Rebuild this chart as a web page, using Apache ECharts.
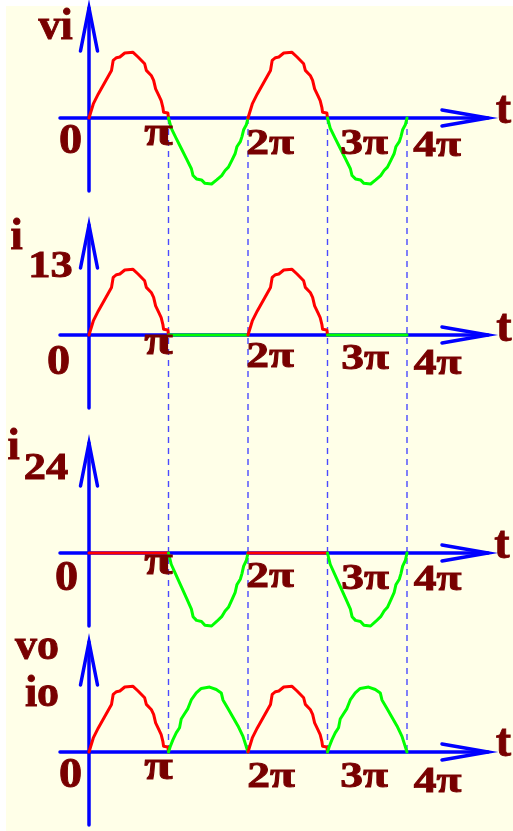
<!DOCTYPE html>
<html>
<head>
<meta charset="utf-8">
<script src="https://cdn.jsdelivr.net/npm/echarts@6/dist/echarts.min.js"></script>
<style>
  html, body { margin: 0; padding: 0; background: #ffffff; }
  #chart { width: 513px; height: 831px; }
</style>
</head>
<body>
<div id="chart"></div>
<script>
// Half-period waveform shapes: [phase in units of π, normalised amplitude]
const redHump = [
  [0, 0], [0.054, 0.213], [0.117, 0.365], [0.2, 0.543], [0.283, 0.721],
  [0.304, 0.873], [0.346, 0.914], [0.388, 0.924], [0.45, 0.985], [0.554, 0.995],
  [0.617, 0.924], [0.7, 0.822], [0.721, 0.721], [0.783, 0.645], [0.813, 0.569],
  [0.838, 0.442], [0.879, 0.34], [0.908, 0.264], [0.929, 0.162], [0.938, 0.086],
  [0.992, 0.076], [1, 0]
];
const greenDip = [
  [0, 0], [0.034, -0.154], [0.097, -0.308], [0.161, -0.462], [0.225, -0.615],
  [0.288, -0.769], [0.309, -0.872], [0.352, -0.923], [0.415, -0.938], [0.458, -0.99],
  [0.542, -1.0], [0.606, -0.938], [0.669, -0.872], [0.712, -0.795], [0.754, -0.744],
  [0.797, -0.641], [0.839, -0.538], [0.86, -0.436], [0.903, -0.359], [0.924, -0.282],
  [0.945, -0.179], [0.979, -0.103], [0.996, -0.103], [1, 0]
];
const greenHump = [
  [0, 0], [0.021, 0.079], [0.055, 0.184], [0.097, 0.289], [0.139, 0.368],
  [0.16, 0.5], [0.202, 0.579], [0.244, 0.658], [0.286, 0.789], [0.349, 0.895],
  [0.412, 0.963], [0.517, 0.984], [0.601, 0.947], [0.664, 0.895], [0.685, 0.789],
  [0.748, 0.658], [0.811, 0.526], [0.874, 0.395], [0.937, 0.237], [1, 0]
];
const flatOff = [[0, 0], [1, 0]];

// Time axis ticks (multiples of π)
const tickValues = [0, 1, 2, 3, 4];
const tickLabels = ['0', 'π', '2π', '3π', '4π'];
const timeName = 't';

// Each panel: which shape is drawn in each half period, and its colour
const panelSegments = [
  [['red', redHump], ['green', greenDip], ['red', redHump], ['green', greenDip]],
  [['red', redHump], ['green', flatOff], ['red', redHump], ['green', flatOff]],
  [['red', flatOff], ['green', greenDip], ['red', flatOff], ['green', greenDip]],
  [['red', redHump], ['green', greenHump], ['red', redHump], ['green', greenHump]]
];

// ---- layout ----
const TEXT = '#780000';
const BLUE = '#0000ff';
const COLORS = { red: '#ff0000', green: '#00ff00' };
const FONT = '"Liberation Serif", "Times New Roman", serif';
const axisY = [118, 335, 553, 752];          // pixel row of each time axis
const pxPerUnit = [66, 66, 73, 66];          // vertical scale of each panel
const plotLeft = 89, plotWidth = 318;        // 0 .. 4π
const yMax = 1.5, yMin = -1.1;

const grids = [], xAxes = [], yAxes = [], series = [];
axisY.forEach((y0, i) => {
  const u = pxPerUnit[i];
  grids.push({ left: plotLeft, width: plotWidth, top: y0 - yMax * u, height: (yMax - yMin) * u });
  xAxes.push({ gridIndex: i, type: 'value', min: 0, max: 4, show: false });
  yAxes.push({ gridIndex: i, type: 'value', min: yMin, max: yMax, show: false });
  panelSegments[i].forEach((seg, k) => {
    series.push({
      type: 'line', xAxisIndex: i, yAxisIndex: i,
      data: seg[1].map(p => [p[0] + k, p[1]]),
      showSymbol: false, silent: true, z: 5, clip: false,
      lineStyle: { color: COLORS[seg[0]], width: 3, cap: 'round', join: 'round' },
      animation: false
    });
  });
});

const chart = echarts.init(document.getElementById('chart'), null, { renderer: 'canvas' });
chart.setOption({
  backgroundColor: '#ffffff',
  animation: false,
  grid: grids, xAxis: xAxes, yAxis: yAxes, series: series
});

// tick label placement relative to each tick: [dx, glyph bottom below axis]
const tickLabelPos = [
  [[-18.5, 38], [-10, 30], [22, 39], [36.5, 39], [30, 41]],
  [[-30.5, 42], [-10, 22], [22, 35], [37.5, 37], [30.5, 42]],
  [[-22.5, 40], [-10, 24], [22, 37], [37.5, 39], [30.5, 40]],
  [[-18.5, 38], [-10, 30], [23, 38], [36.5, 38], [30.5, 43]]
];
const tickFont = [[42, 1.1], [40, 1.3], [35, 1.3], [35, 1.3], [35, 1.3]];
const tPos = [[503.5, 9], [504, 10], [502, 9], [503.5, 8]];

// y-axis names: [text, centre x, glyph bottom, font size, horizontal stretch]
const yNames = [
  [['vi', 55.5, 43, 44, 1]],
  [['i', 16.5, 253, 44, 1], ['13', 50.5, 280, 37, 1.2]],
  [['i', 13.5, 463, 44, 1], ['24', 46, 482, 37, 1.2]],
  [['vo', 37, 663, 44, 1], ['io', 42, 710, 44, 1]]
];

function textEl(str, cx, bottom, size, sx) {
  return {
    type: 'text', z: 10, silent: true,
    x: cx, y: bottom - 0.34 * size, scaleX: sx || 1,
    style: {
      text: str, x: 0, y: 0,
      font: 'bold ' + size + 'px ' + FONT,
      fill: TEXT, stroke: TEXT, lineWidth: 0.9,
      align: 'center', verticalAlign: 'middle',
      textAlign: 'center', textVerticalAlign: 'middle'
    }
  };
}

const els = [];
els.push({ type: 'rect', z: -10, silent: true, shape: { x: 6, y: 6, width: 507, height: 825 }, style: { fill: '#ffffe8' } });

// dashed guides at π, 2π, 3π, 4π from the top axis down to the bottom axis
tickValues.slice(1).forEach(v => {
  const a = chart.convertToPixel({ gridIndex: 0 }, [v, 0]);
  const b = chart.convertToPixel({ gridIndex: 3 }, [v, 0]);
  els.push({
    type: 'line', z: 1, silent: true,
    shape: { x1: a[0], y1: a[1], x2: b[0], y2: b[1] },
    style: { stroke: '#4a4aff', lineWidth: 1.4, lineDash: [6, 5] }
  });
});

axisY.forEach((y0, i) => {
  const o = chart.convertToPixel({ gridIndex: i }, [0, 0]);
  const ox = o[0], oy = o[1];
  const lineStyle = { stroke: BLUE, lineWidth: 3.5, fill: null, lineJoin: 'miter', lineCap: 'round' };
  // time axis with open arrow head
  els.push({ type: 'line', z: 2, silent: true, shape: { x1: 60, y1: oy, x2: 488, y2: oy }, style: lineStyle });
  els.push({ type: 'polyline', z: 2, silent: true, shape: { points: [[442, oy - 8], [488, oy], [442, oy + 8]] }, style: lineStyle });
  // vertical axis with open arrow head
  const top = oy - 110, bottom = oy + 73;
  els.push({ type: 'line', z: 2, silent: true, shape: { x1: ox, y1: bottom, x2: ox, y2: top }, style: lineStyle });
  els.push({ type: 'polyline', z: 2, silent: true, shape: { points: [[ox - 8.5, top + 43], [ox, top], [ox + 8.5, top + 43]] }, style: lineStyle });

  tickValues.forEach((v, k) => {
    const p = chart.convertToPixel({ gridIndex: i }, [v, 0]);
    const pos = tickLabelPos[i][k];
    els.push(textEl(tickLabels[k], p[0] + pos[0], oy + pos[1], tickFont[k][0], tickFont[k][1]));
  });
  els.push(textEl(timeName, tPos[i][0], oy + tPos[i][1], 46, 1));
  yNames[i].forEach(n => els.push(textEl(n[0], n[1], n[2], n[3], n[4])));
});

chart.setOption({ graphic: { elements: els } });
</script>
</body>
</html>
